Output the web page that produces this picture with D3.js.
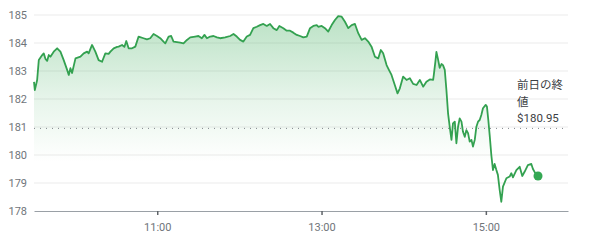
<!DOCTYPE html>
<html><head><meta charset="utf-8">
<script src="https://cdn.jsdelivr.net/npm/d3@7"></script>
<style>
html,body{margin:0;padding:0;background:#fff;}
svg{display:block;font-family:Roboto,"Noto Sans",Arial,sans-serif;}
</style></head>
<body><svg id="c" width="590" height="241"></svg>
<script>
// minutes after 9:30
const minutes = [0,0.6,2.3,3.5,6.0,7.1,8.4,9.6,10.8,12.0,14.4,16.9,19.3,21.7,24.2,25.4,26.6,27.8,30.3,33.9,36.3,38.8,39.9,42.4,44.8,47.2,49.7,52.1,54.5,55.8,58.2,60.7,61.8,64.3,66.0,67.4,69.1,71.6,74.0,76.4,80.0,82.5,84.9,87.3,89.8,92.2,94.6,95.9,98.3,100.2,101.9,104.4,106.8,109.2,111.7,114.1,117.7,120.1,122.6,124.5,126.3,128.7,131.1,133.6,136.0,139.6,143.3,145.7,148.1,150.5,152.9,155.4,157.8,160.2,162.7,165.1,167.5,170.0,172.4,174.8,177.3,179.2,182.1,184.6,187.0,189.4,191.9,194.3,196.7,199.2,201.6,204.0,206.5,207.6,210.1,212.5,214.9,217.4,219.8,222.2,224.7,227.1,229.5,232.0,234.4,236.8,239.3,241.7,244.1,246.5,249.0,251.4,253.3,255.0,257.5,259.2,261.1,263.5,265.5,267.2,269.6,272.1,274.5,276.9,279.4,281.8,284.2,286.6,289.1,291.5,292.0,293.1,293.9,294.9,296.3,297.6,298.7,300.0,301.2,302.4,303.6,304.9,306.0,307.3,308.5,309.7,310.9,312.2,313.3,314.6,315.8,317.0,318.2,319.5,320.6,321.9,323.1,324.3,325.5,326.7,327.9,329.9,330.8,331.8,332.8,334.0,335.2,336.4,337.7,338.8,340.1,341.3,342.5,345.0,347.4,348.6,349.8,352.3,354.7,356.6,358.3,360.7,363.2,364.4,366.8,368.1];
const prices = [182.61,182.32,182.68,183.39,183.57,183.63,183.43,183.36,183.57,183.51,183.69,183.81,183.69,183.39,183.04,182.86,183.10,182.93,183.45,183.51,183.63,183.69,183.63,183.93,183.69,183.39,183.33,183.63,183.61,183.69,183.81,183.86,183.87,183.93,183.86,184.07,183.81,183.81,183.87,184.23,184.17,184.13,184.17,184.32,184.25,184.17,184.05,183.99,184.23,184.25,184.05,184.03,184.01,183.99,184.11,184.20,184.23,184.25,184.17,184.29,184.17,184.23,184.25,184.20,184.17,184.20,184.25,184.32,184.23,184.11,184.05,184.23,184.29,184.53,184.58,184.64,184.68,184.61,184.68,184.53,184.46,184.61,184.53,184.44,184.44,184.37,184.29,184.25,184.20,184.23,184.53,184.61,184.64,184.58,184.61,184.53,184.41,184.64,184.82,184.96,184.94,184.76,184.53,184.64,184.68,184.35,184.11,184.17,184.05,183.87,183.51,183.45,183.75,183.63,183.21,183.04,182.86,182.50,182.20,182.38,182.80,182.68,182.74,182.54,182.50,182.68,182.44,182.62,182.70,182.68,182.86,183.32,183.68,183.46,183.11,183.25,183.21,183.04,182.32,181.49,181.01,180.54,181.13,181.19,180.42,181.01,181.31,181.19,180.83,180.65,180.89,180.78,180.48,180.54,180.30,180.54,181.01,181.19,181.25,181.43,181.67,181.79,181.73,181.25,180.71,180.00,179.46,179.68,179.46,179.29,178.75,178.33,178.87,179.17,179.23,179.35,179.20,179.46,179.58,179.25,179.40,179.64,179.68,179.50,179.29,179.25];
const yTicks = [178,179,180,181,182,183,184,185];
const xTickLabels = ["11:00","13:00","15:00"];
const prevClose = 180.95;
const prevCloseLabel = ["前日の終","値","$180.95"];

const day = (h,m)=>new Date(2024,0,2,h,m);
const start = day(9,30);
const data = minutes.map((m,i)=>({t:new Date(start.getTime()+m*60000), v:prices[i]}));

const svg = d3.select("#c");
const x = d3.scaleTime().domain([day(9,30), day(16,0)]).range([34,568]);
const y = d3.scaleLinear().domain([178,185]).range([211,15]);

const defs = svg.append("defs");
const g = defs.append("linearGradient").attr("id","gf").attr("gradientUnits","userSpaceOnUse")
  .attr("x1",0).attr("x2",0).attr("y1",y(185)).attr("y2",y(178));
g.append("stop").attr("offset","0").attr("stop-color","#34a853").attr("stop-opacity",0.34);
g.append("stop").attr("offset","0.45").attr("stop-color","#34a853").attr("stop-opacity",0.11);
g.append("stop").attr("offset","0.75").attr("stop-color","#34a853").attr("stop-opacity",0.0);

// gridlines
svg.append("g").selectAll("line").data(yTicks.filter(d=>d>178)).join("line")
  .attr("x1",34).attr("x2",568).attr("y1",d=>y(d)).attr("y2",d=>y(d))
  .attr("stroke","#ebebeb").attr("stroke-width",1);

// y labels
svg.append("g").selectAll("text").data(yTicks).join("text")
  .attr("x",27).attr("y",d=>y(d)).attr("dy","0.35em").attr("text-anchor","end")
  .attr("font-size",11).attr("fill","#70757a").text(d=>d);

// area
svg.append("path").datum(data)
  .attr("d", d3.area().x(d=>x(d.t)).y0(y(178)).y1(d=>y(d.v)))
  .attr("fill","url(#gf)");

// prev close dotted line
svg.append("line").attr("x1",34).attr("x2",568).attr("y1",y(prevClose)).attr("y2",y(prevClose))
  .attr("stroke","#80868b").attr("stroke-width",1).attr("stroke-dasharray","1,5");

// x axis
const xa = svg.append("g").attr("transform",`translate(0,${y(178)})`)
  .call(d3.axisBottom(x).tickValues(xTickLabels.map(s=>{const [h,m]=s.split(":");return day(+h,+m);}))
    .tickSize(4).tickSizeOuter(0).tickFormat(d3.timeFormat("%H:%M")));
xa.select(".domain").attr("stroke","#9aa0a6").attr("stroke-width",1);
xa.selectAll(".tick line").attr("stroke","#5f6368").attr("stroke-width",1.5);
xa.selectAll(".tick text").attr("font-size",11).attr("fill","#70757a").attr("dy","1.15em")
  .attr("font-family","Roboto,Arial,sans-serif");

// line
svg.append("path").datum(data)
  .attr("d", d3.line().x(d=>x(d.t)).y(d=>y(d.v)))
  .attr("fill","none").attr("stroke","#33a150").attr("stroke-width",1.8).attr("stroke-linejoin","round");

// end dot
const last = data[data.length-1];
svg.append("circle").attr("cx",x(last.t)).attr("cy",y(last.v)).attr("r",4.5).attr("fill","#34a853");

// label
const lab = svg.append("text").attr("font-size",11.5).attr("fill","#3c4043")
  .attr("font-family","Roboto,'Noto Sans CJK JP',sans-serif");
prevCloseLabel.forEach((s,i)=>{
  lab.append("tspan").attr("x",517).attr("y",89+i*16.5).text(s);
});
</script></body></html>
